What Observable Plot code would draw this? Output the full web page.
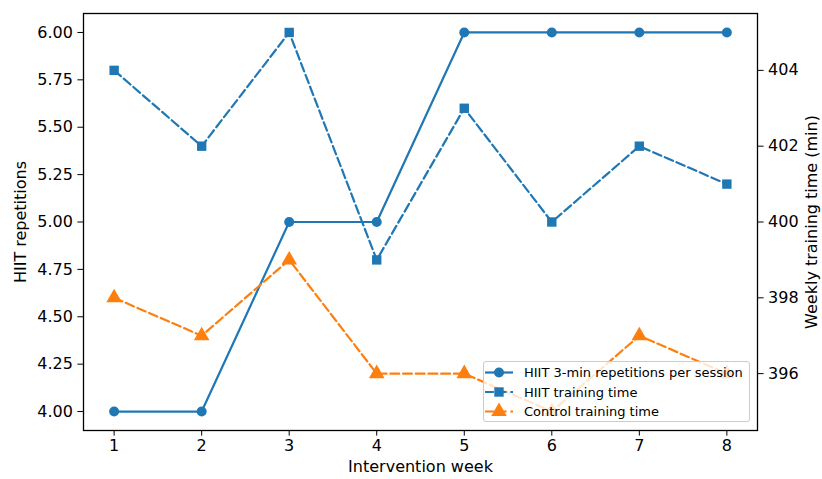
<!DOCTYPE html>
<html>
<head>
<meta charset="utf-8">
<script src="https://cdn.jsdelivr.net/npm/d3@7"></script>
<script src="https://cdn.jsdelivr.net/npm/@observablehq/plot@0.6"></script>
<style>
  body { margin: 0; background: white; }
  #wrap { position: relative; width: 822px; height: 479px; }
  #legend { position: absolute; left: 483px; top: 361px; width: 267px; height: 61px;
    background: rgba(255,255,255,0.8); border: 1px solid #cccccc; border-radius: 3px;
    box-sizing: border-box; font-family: "DejaVu Sans", sans-serif; font-size: 13px; }
</style>
</head>
<body>
<div id="wrap"><div id="legend"></div></div>
<script>
const weeks = [1, 2, 3, 4, 5, 6, 7, 8];
const hiitReps = [4, 4, 5, 5, 6, 6, 6, 6];
const hiitTime = [404, 402, 405, 399, 403, 400, 402, 401];
const controlTime = [398, 397, 399, 396, 396, 395, 397, 396];
const leftTicks = [4.0, 4.25, 4.5, 4.75, 5.0, 5.25, 5.5, 5.75, 6.0];
const rightTicks = [396, 398, 400, 402, 404];
const seriesNames = ["HIIT 3-min repetitions per session", "HIIT training time", "Control training time"];
const blue = "#1f77b4", orange = "#ff7f0e";

// map right-axis minutes (394.5..405.5) onto left-axis scale (3.9..6.1)
const toLeft = v => 4 + (v - 395) * 0.2;
const fromLeft = d => Math.round((d - 4) / 0.2 + 395);

const repsData = weeks.map((w, i) => ({week: w, v: hiitReps[i]}));
const hiitTimeData = weeks.map((w, i) => ({week: w, v: toLeft(hiitTime[i])}));
const ctrlData = weeks.map((w, i) => ({week: w, v: toLeft(controlTime[i])}));

const lw = 2.2, dash = "8.9,3.8";

const chart = Plot.plot({
  width: 822, height: 479,
  marginLeft: 83, marginRight: 65, marginTop: 13, marginBottom: 49,
  style: {fontFamily: "DejaVu Sans, sans-serif", fontSize: "16px", color: "black", background: "white", overflow: "visible"},
  x: {domain: [0.65, 8.35]},
  y: {domain: [3.9, 6.1]},
  marks: [
    Plot.axisX({ticks: weeks, tickFormat: d => String(d), tickSize: 5.6, tickPadding: 4, label: null, fontSize: 16}),
    Plot.axisY({anchor: "left", ticks: leftTicks, tickFormat: d => d.toFixed(2), tickSize: 5.6, tickPadding: 5, label: null, fontSize: 16}),
    Plot.axisY({anchor: "right", ticks: rightTicks.map(toLeft), tickFormat: d => String(fromLeft(d)), tickSize: 5.6, tickPadding: 5, label: null, fontSize: 16}),
    Plot.line(repsData, {x: "week", y: "v", stroke: blue, strokeWidth: lw}),
    Plot.dot(repsData, {x: "week", y: "v", fill: blue, r: 5, symbol: "circle"}),
    Plot.line(hiitTimeData, {x: "week", y: "v", stroke: blue, strokeWidth: lw, strokeDasharray: dash}),
    Plot.dot(hiitTimeData, {x: "week", y: "v", fill: blue, r: 5.3, symbol: "square"}),
    Plot.line(ctrlData, {x: "week", y: "v", stroke: orange, strokeWidth: lw, strokeDasharray: dash}),
    Plot.dot(ctrlData, {x: "week", y: "v", fill: orange, r: 5.8, symbol: "triangle"}),
    Plot.frame({stroke: "black", strokeWidth: 1.3}),
    Plot.text(["HIIT repetitions"], {frameAnchor: "left", dx: -63, rotate: -90, textAnchor: "middle", fontSize: 16, fill: "black"}),
    Plot.text(["Weekly training time (min)"], {frameAnchor: "right", dx: 54, rotate: -90, textAnchor: "middle", fontSize: 16, fill: "black"}),
    Plot.text(["Intervention week"], {frameAnchor: "bottom", dy: 41, fontSize: 16, fill: "black"})
  ]
});
document.getElementById("wrap").prepend(chart);

// legend
const leg = d3.select("#legend");
const items = [
  {name: seriesNames[0], color: blue, dash: null, sym: d3.symbolCircle, size: Math.PI * 25},
  {name: seriesNames[1], color: blue, dash: dash, sym: d3.symbolSquare, size: Math.PI * 5.3 * 5.3},
  {name: seriesNames[2], color: orange, dash: dash, sym: d3.symbolTriangle, size: Math.PI * 5.8 * 5.8}
];
const svg = leg.append("svg").attr("width", 265).attr("height", 59).style("position", "absolute").style("left", "0").style("top", "0");
items.forEach((it, i) => {
  const y = 10.5 + i * 19.5;
  const g = svg.append("g");
  g.append("line").attr("x1", 1).attr("x2", 29).attr("y1", y).attr("y2", y)
    .attr("stroke", it.color).attr("stroke-width", lw).attr("stroke-dasharray", it.dash);
  g.append("path").attr("d", d3.symbol(it.sym, it.size)()).attr("transform", `translate(15,${y})`).attr("fill", it.color);
  g.append("text").attr("x", 40).attr("y", y).attr("dy", "0.35em").attr("font-size", 13)
    .attr("font-family", "DejaVu Sans, sans-serif").attr("fill", "black").text(it.name);
});
</script>
</body>
</html>
